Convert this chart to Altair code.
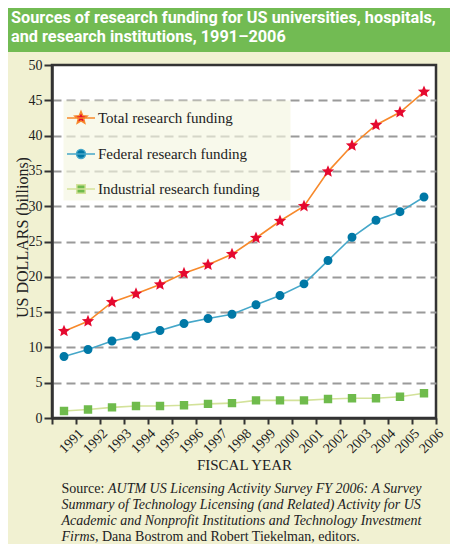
import altair as alt
import pandas as pd

# ---------------- data ----------------
years = list(range(1991, 2007))
total = [12.3, 13.7, 16.4, 17.6, 18.9, 20.5, 21.7, 23.2, 25.5, 27.9, 30.0, 34.9, 38.6, 41.5, 43.3, 46.2]
federal = [8.7, 9.7, 10.9, 11.6, 12.4, 13.4, 14.1, 14.7, 16.05, 17.35, 19.0, 22.3, 25.6, 28.0, 29.2, 31.3]
industrial = [1.0, 1.2, 1.5, 1.7, 1.7, 1.8, 2.0, 2.1, 2.5, 2.5, 2.5, 2.7, 2.8, 2.8, 3.0, 3.5]

series_names = ["Total research funding", "Federal research funding", "Industrial research funding"]
line_colors = ["#f7892b", "#45a7c9", "#d3e29a"]
marker_colors = ["#e5092f", "#0078a6", "#6fbb4c"]

y_ticks = [0, 5, 10, 15, 20, 25, 30, 35, 40, 45, 50]
x_tick_edges = [1990.5 + i for i in range(17)]

title_lines = [
    "Sources of research funding for US universities, hospitals,",
    "and research institutions, 1991\u20132006",
]
x_title = "FISCAL YEAR"
y_title = "US DOLLARS (billions)"
source_label = "Source:"
source_italic_1 = "AUTM US Licensing Activity Survey FY 2006: A Survey"
source_italic_2 = "Summary of Technology Licensing (and Related) Activity for US"
source_italic_3 = "Academic and Nonprofit Institutions and Technology Investment"
source_italic_4 = "Firms,"
source_roman_4 = "Dana Bostrom and Robert Tiekelman, editors."

# marker shapes: small marker inside a large unit box, plus a key line (only
# visible where a stroke is drawn, i.e. in the legend)
key_line = " M-1,0 L1,0"
star_path = ("M0,-0.46 L0.1217,-0.1675 L0.4375,-0.1421 L0.1969,0.064 L0.2704,0.3721 "
             "L0,0.207 L-0.2704,0.3721 L-0.1969,0.064 L-0.4375,-0.1421 L-0.1217,-0.1675 Z") + key_line
circle_path = "M0.32,0 A0.32,0.32 0 1,1 -0.32,0 A0.32,0.32 0 1,1 0.32,0 Z" + key_line
square_path = "M-0.3,-0.3 L0.3,-0.3 L0.3,0.3 L-0.3,0.3 Z" + key_line
shape_paths = [star_path, circle_path, square_path]

rows = []
for name, vals in zip(series_names, [total, federal, industrial]):
    for yr, v in zip(years, vals):
        rows.append({"year": yr, "value": v, "series": name})
df = pd.DataFrame(rows)
one = pd.DataFrame({"k": [0]})

SERIF = "Liberation Serif"
INK = "#222222"
CREAM = "#f1f1d2"
GREEN = "#72bb53"

# an invisible legend title on the right widens the legend panel
legend = alt.Legend(
    orient="none", legendX=11, legendY=35, direction="vertical",
    title="MMMM", titleOrient="right", titleOpacity=0, titleFontSize=8, titlePadding=0,
    symbolSize=784, symbolStrokeWidth=1.5, symbolOpacity=1,
    labelFont=SERIF, labelFontSize=15, labelColor=INK, labelLimit=400,
    labelOffset=2, padding=3, rowPadding=12,
    fillColor="rgba(245,246,224,0.65)", strokeColor="transparent",
)

x_axis = alt.Axis(
    values=x_tick_edges,
    labelExpr="datum.value < 1991 ? '' : '' + (datum.value - 0.5)",
    labelAngle=-45, labelAlign="right", labelBaseline="top", labelPadding=2,
    labelFont=SERIF, labelFontSize=14, labelColor=INK, labelFlush=False, labelOverlap=False,
    tickSize=6, tickWidth=2, tickColor="#333333", domainColor="#333333", domainWidth=2.5,
    grid=False, title=x_title, titleFont=SERIF, titleFontSize=15, titleFontWeight="normal",
    titleColor=INK, titleX=192, titleY=51, titleAlign="center", titleBaseline="alphabetic",
)
y_axis = alt.Axis(
    values=y_ticks, labelFont=SERIF, labelFontSize=14, labelColor=INK, labelPadding=2,
    tickSize=8, tickWidth=2, tickColor="#333333", domainColor="#333333", domainWidth=2.5,
    grid=True, gridColor="#9a9a9a", gridWidth=2, gridDash=[9, 5],
    gridOpacity=alt.condition("datum.value == 0 || datum.value == 50", alt.value(0), alt.value(1)),
    title=y_title, titleFont=SERIF, titleFontSize=16, titleFontWeight="normal", titleColor=INK,
    titleAngle=270, titleX=-25, titleY=172, titleAlign="center", titleBaseline="alphabetic",
)

base = alt.Chart(df).encode(
    x=alt.X("year:Q", scale=alt.Scale(domain=[1990.5, 2006.5], nice=False, zero=False), axis=x_axis),
    y=alt.Y("value:Q", scale=alt.Scale(domain=[0, 50], nice=False), axis=y_axis),
)

# line colours: own colour scale (ordered by sort), no legend of its own
lines = base.mark_line(strokeWidth=1.6).encode(
    color=alt.Color("series:N", sort=series_names, scale=alt.Scale(range=line_colors),
                    legend=None),
)
points = base.mark_point(filled=True, size=784, opacity=1, strokeWidth=0).encode(
    stroke=alt.Stroke("series:N", scale=alt.Scale(domain=series_names, range=line_colors),
                      legend=legend),
    fill=alt.Fill("series:N", scale=alt.Scale(domain=series_names, range=marker_colors),
                  legend=legend),
    shape=alt.Shape("series:N", scale=alt.Scale(domain=series_names, range=shape_paths),
                    legend=legend),
)

band = alt.Chart(one).mark_rect(color=GREEN).encode(
    x=alt.value(-44), x2=alt.value(398), y=alt.value(-57), y2=alt.value(-13)
)

def txt(s, x, y, font="Liberation Serif", size=14, weight="normal", style="normal", color=INK):
    return alt.Chart(one).mark_text(
        text=s, font=font, fontSize=size, fontWeight=weight, fontStyle=style, color=color,
        align="left", baseline="alphabetic",
    ).encode(x=alt.value(x), y=alt.value(y))

title1 = txt(title_lines[0], -41, -42.5, font="Roboto", size=16.3, weight="bold", color="white")
title2 = txt(title_lines[1], -41, -23.5, font="Roboto", size=16.3, weight="bold", color="white")

s1a = txt(source_label, 9.5, 427.5)
s1b = txt(source_italic_1, 56, 427.5, style="italic")
s2 = txt(source_italic_2, 9.5, 444, style="italic")
s3 = txt(source_italic_3, 9.5, 460, style="italic")
s4a = txt(source_italic_4, 9.5, 476, style="italic")
s4b = txt(source_roman_4, 50, 476)

chart = alt.layer(
    band, title1, title2, lines, points, s1a, s1b, s2, s3, s4a, s4b
).properties(
    width=384, height=353,
    autosize=alt.AutoSizeParams(type="none"),
    padding={"left": 44, "top": 57, "right": 14, "bottom": 126},
    background=CREAM,
).configure_view(
    stroke="#333333", strokeWidth=2.5, fill="white",
)

chart.save("out.html", embed_options={"renderer": "svg", "actions": False})
